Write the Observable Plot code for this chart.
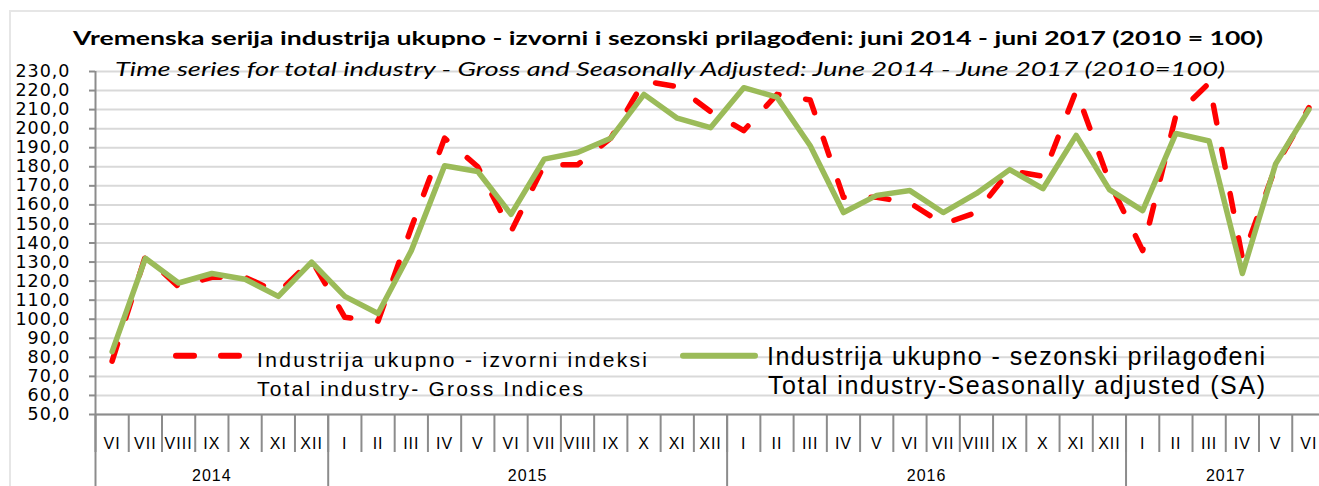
<!DOCTYPE html>
<html><head><meta charset="utf-8">
<script src="https://cdn.jsdelivr.net/npm/d3@7"></script>
<script src="https://cdn.jsdelivr.net/npm/@observablehq/plot@0.6"></script>
<style>
body{margin:0;background:#fff;}
#wrap{position:relative;width:1319px;height:486px;overflow:hidden;background:#fff;}
#border{position:absolute;left:9px;top:10px;width:1400px;height:600px;border-left:2px solid #e6e6e6;border-top:2px solid #e6e6e6;}
#chart{position:absolute;left:0;top:0;}
#overlay{position:absolute;left:0;top:0;}
</style></head>
<body>
<div id="wrap">
<div id="border"></div>
<div id="chart"></div>
<svg id="overlay" width="1319" height="486" xmlns="http://www.w3.org/2000/svg">
  <text x="73" y="45" font-family="Lato" font-weight="bold" font-size="19" textLength="1190" lengthAdjust="spacingAndGlyphs" fill="#000">Vremenska serija industrija ukupno - izvorni i sezonski prilagođeni: juni 2014 - juni 2017 (2010 = 100)</text>
  <text x="115" y="76" font-family="Lato" font-style="italic" font-size="20" textLength="1110" lengthAdjust="spacingAndGlyphs" fill="#000">Time series for total industry - Gross and Seasonally Adjusted: June 2014 - June 2017 (2010=100)</text>
  <line x1="176" x2="239" y1="355.7" y2="355.7" stroke="#ff0000" stroke-width="6" stroke-dasharray="18,27" stroke-linecap="round"/>
  <text x="257" y="366.7" font-family="Liberation Sans" font-size="21" textLength="390" lengthAdjust="spacing" fill="#000">Industrija ukupno - izvorni indeksi</text>
  <text x="257" y="396" font-family="Liberation Sans" font-size="21" textLength="326" lengthAdjust="spacing" fill="#000">Total industry- Gross Indices</text>
  <line x1="683" x2="755" y1="355.7" y2="355.7" stroke="#9bbb59" stroke-width="6" stroke-linecap="round"/>
  <text x="767" y="365" font-family="Liberation Sans" font-size="25" textLength="498" lengthAdjust="spacing" fill="#000">Industrija ukupno - sezonski prilagođeni</text>
  <text x="768" y="393.5" font-family="Liberation Sans" font-size="25" textLength="497" lengthAdjust="spacing" fill="#000">Total industry-Seasonally adjusted (SA)</text>
</svg>
</div>
<script>
const monthLabels = ["VI","VII","VIII","IX","X","XI","XII",
  "I","II","III","IV","V","VI","VII","VIII","IX","X","XI","XII",
  "I","II","III","IV","V","VI","VII","VIII","IX","X","XI","XII",
  "I","II","III","IV","V","VI"];
const yearLabels = ["2014","2015","2016","2017"];
const monthsPerYear = [7, 12, 12, 6];
const grossIndices = [78,133,117,122,122,114,131,
  101,99,148,195,180,146,181,181,195,225,222,209,
  199,218,215,164,164,161,150,156,178,175,220,172,
  136,207,224,132,180,211];
const seasonallyAdjusted = [83,132,119,124,121,112,130,
  112,103,136,180.5,177.5,155,184,187.5,195,218,205.5,200.5,
  221.5,216.5,191,156,165,167.5,156,166,178.5,168.5,196.5,168,
  157,197.5,193.5,124,181.5,210];
const yTicks = d3.range(50, 231, 10);

const rows = monthLabels.map((m, i) => ({i, month: m, gross: grossIndices[i], sa: seasonallyAdjusted[i]}));
const monthIdx = rows.map(d => d.i);
const monthBoundaries = d3.range(0, monthLabels.length + 1).map(i => i - 0.5);
const yearStarts = d3.cumsum([0, ...monthsPerYear]).slice(0, -1);
const yearBoundaries = [...yearStarts.map(s => s - 0.5), monthLabels.length - 0.5];
const yearCenters = yearStarts.map((s, k) => s + (monthsPerYear[k] - 1) / 2);

const grey = "#8c8c8c";
const chart = Plot.plot({
  width: 1319, height: 486,
  marginLeft: 95, marginRight: 0, marginTop: 71, marginBottom: 72,
  x: {domain: [-0.5, monthLabels.length - 0.5], range: [95, 1325]},
  y: {domain: [50, 230], range: [414, 71]},
  style: {background: "transparent", fontFamily: "Liberation Sans", letterSpacing: "1px", overflow: "visible"},
  marks: [
    Plot.gridY(yTicks, {stroke: "#d9d9d9", strokeOpacity: 1, strokeWidth: 2}),
    Plot.axisY(yTicks, {tickSize: 6, tickPadding: 19, tickFormat: d => d.toFixed(1).replace(".", ","),
      stroke: grey, strokeWidth: 2, fill: "#000", fontSize: 17.5, fontFamily: "DejaVu Sans", label: null}),
    Plot.axisX(monthBoundaries, {tickSize: 38, tickFormat: () => "", stroke: grey, strokeWidth: 2, label: null}),
    Plot.axisX(yearBoundaries, {tickSize: 80, tickFormat: () => "", stroke: grey, strokeWidth: 2, label: null}),
    Plot.axisX(monthIdx, {tickSize: 0, tickPadding: 23, tickFormat: i => monthLabels[i], fill: "#000", fontSize: 16, label: null}),
    Plot.axisX(yearCenters, {tickSize: 0, tickPadding: 55, tickFormat: c => yearLabels[yearCenters.indexOf(c)], fill: "#000", fontSize: 16, label: null}),
    Plot.ruleX([-0.5], {stroke: grey, strokeWidth: 2}),
    Plot.ruleY([50], {stroke: grey, strokeWidth: 2}),
    Plot.line(rows, {x: "i", y: "gross", stroke: "#ff0000", strokeWidth: 5.5, strokeDasharray: "18,27", strokeLinecap: "round", strokeLinejoin: "round"}),
    Plot.line(rows, {x: "i", y: "sa", stroke: "#9bbb59", strokeWidth: 5.5, strokeLinecap: "round", strokeLinejoin: "round"})
  ]
});
document.getElementById("chart").appendChild(chart);
</script>
</body></html>
